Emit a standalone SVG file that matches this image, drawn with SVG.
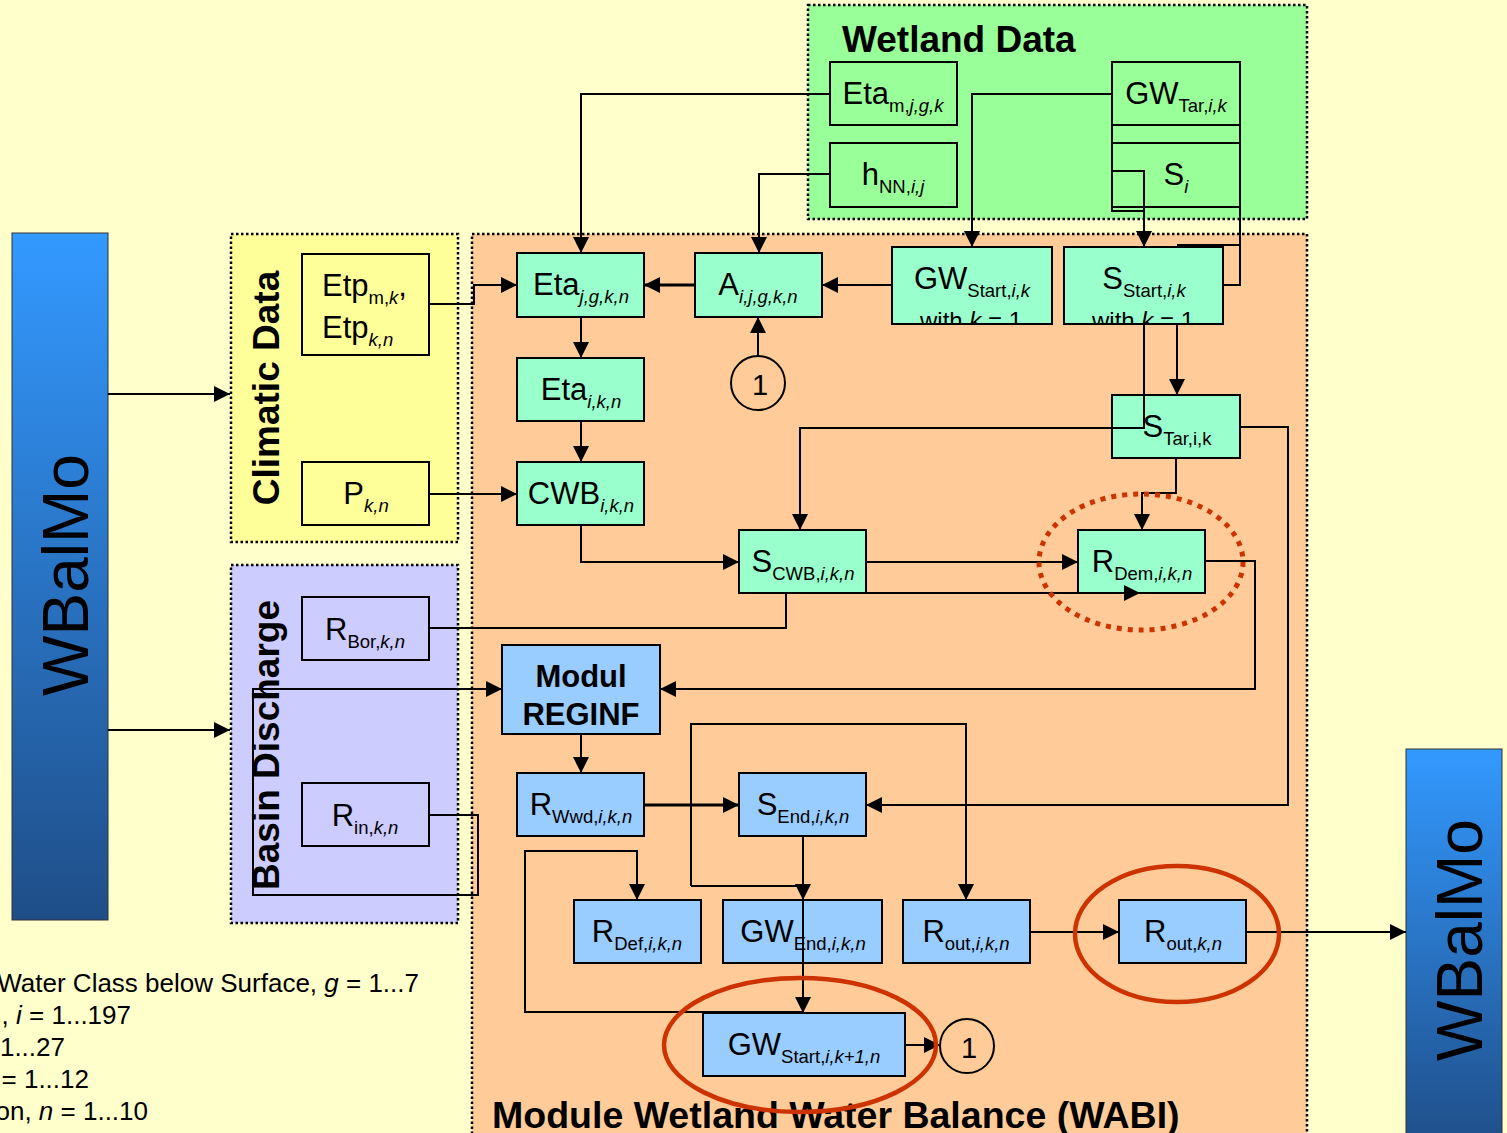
<svg xmlns="http://www.w3.org/2000/svg" width="1507" height="1133" viewBox="0 0 1507 1133">
<style>
.t{font-family:"Liberation Sans",Arial,sans-serif;fill:#000}
.m{font-size:31px}
.s{font-size:18.5px}
.i{font-style:italic}
.b{font-weight:bold}
.box{stroke:#000;stroke-width:2}
.g{fill:#99FFCC}.bl{fill:#99CCFF}.y{fill:#FFFF99}.v{fill:#CCCCFF}.w{fill:#99FF99}.o{fill:#FFCC99}
.ct{stroke:#000;stroke-width:2.5;stroke-dasharray:2.5 2.5}
.ln{fill:none;stroke:#000;stroke-width:2}
.th{stroke-width:3}
.a{marker-end:url(#ah)}
.wb{fill:url(#wbg);stroke:#333;stroke-width:1}
.red{fill:none;stroke:#CC3300;stroke-width:4.5}
</style>
<defs>
<marker id="ah" markerUnits="userSpaceOnUse" markerWidth="16" markerHeight="16" refX="16" refY="8" orient="auto"><path d="M0,0 L16,8 L0,16 z" fill="#000"/></marker>
<linearGradient id="wbg" x1="0" y1="0" x2="0" y2="1"><stop offset="0" stop-color="#3399FF"/><stop offset="1" stop-color="#1F4E88"/></linearGradient>
<clipPath id="c1"><rect x="892" y="247" width="160" height="77"/></clipPath>
<clipPath id="c2"><rect x="1064" y="247" width="159" height="77"/></clipPath>
</defs>
<rect x="0" y="0" width="1507" height="1133" fill="#FFFFCC"/>

<g id="containers">
<rect x="231" y="234" width="227" height="308" class="y ct"/>
<text class="t b" font-size="37" text-anchor="middle" transform="translate(279,388) rotate(-90)">Climatic Data</text>
<rect x="231" y="565" width="227" height="358" class="v ct"/>
<text class="t b" font-size="37" text-anchor="middle" transform="translate(279,745) rotate(-90)">Basin Discharge</text>
<rect x="808" y="5" width="499" height="214" class="w ct"/>
<text class="t b" font-size="37" x="842" y="52">Wetland Data</text>
<rect x="472" y="234" width="835" height="920" class="o ct"/>
<text class="t b" font-size="37.5" x="492" y="1128">Module Wetland Water Balance (WABI)</text>
</g>

<g id="wbalmo-left">
<rect x="12" y="233" width="96" height="687" class="wb"/>
<text class="t" font-size="64" text-anchor="middle" transform="translate(88,575) rotate(-90)">WBalMo</text>
</g>
<g id="wbalmo-right">
<rect x="1406" y="749" width="96" height="400" class="wb"/>
<text class="t" font-size="64" text-anchor="middle" transform="translate(1482,940) rotate(-90)">WBalMo</text>
</g>

<g id="legend" class="t" font-size="26" text-anchor="end">
<text x="419" y="992">Water Class below Surface, <tspan class="i">g</tspan> = 1...7</text>
<text x="131" y="1024">, <tspan class="i">i</tspan> = 1...197</text>
<text x="65" y="1056">1...27</text>
<text x="89" y="1088">= 1...12</text>
<text x="148" y="1120">on, <tspan class="i">n</tspan> = 1...10</text>
</g>

<g id="n-etp">
<rect x="302" y="254" width="127" height="101" class="y box"/>
<text x="322" y="296" class="t m">Etp<tspan class="s" dy="8">m,</tspan><tspan class="s i">k</tspan><tspan dy="-8">,</tspan></text>
<text x="322" y="338" class="t m">Etp<tspan class="s i" dy="8">k,n</tspan></text>
</g>
<g id="n-p">
<rect x="302" y="462" width="127" height="63" class="y box"/>
<text x="366" y="504" text-anchor="middle" class="t m">P<tspan class="s i" dy="8">k,n</tspan></text>
</g>
<g id="n-rbor">
<rect x="302" y="597" width="127" height="63" class="v box"/>
<text x="365" y="640" text-anchor="middle" class="t m">R<tspan class="s" dy="8">Bor,</tspan><tspan class="s i">k,n</tspan></text>
</g>
<g id="n-rin">
<rect x="302" y="783" width="127" height="63" class="v box"/>
<text x="365" y="826" text-anchor="middle" class="t m">R<tspan class="s" dy="8">in,</tspan><tspan class="s i">k,n</tspan></text>
</g>

<g id="n-etam">
<rect x="830" y="62" width="127" height="63" class="w box"/>
<text x="893" y="104" text-anchor="middle" class="t m">Eta<tspan class="s" dy="8">m,</tspan><tspan class="s i">j,g,k</tspan></text>
</g>
<g id="n-hnn">
<rect x="830" y="143" width="127" height="64" class="w box"/>
<text x="893" y="185" text-anchor="middle" class="t m">h<tspan class="s" dy="8">NN,</tspan><tspan class="s i">i,j</tspan></text>
</g>
<g id="n-gwtar">
<rect x="1112" y="62" width="128" height="63" class="w box"/>
<text x="1176" y="104" text-anchor="middle" class="t m">GW<tspan class="s" dy="8">Tar,</tspan><tspan class="s i">i,k</tspan></text>
</g>
<g id="n-si">
<rect x="1112" y="143" width="128" height="64" class="w box"/>
<text x="1176" y="185" text-anchor="middle" class="t m">S<tspan class="s i" dy="8">i</tspan></text>
</g>

<g id="n-etajgkn">
<rect x="517" y="253" width="127" height="64" class="g box"/>
<text x="581" y="295" text-anchor="middle" class="t m">Eta<tspan class="s i" dy="8">j,g,k,n</tspan></text>
</g>
<g id="n-a">
<rect x="695" y="253" width="127" height="64" class="g box"/>
<text x="758" y="295" text-anchor="middle" class="t m">A<tspan class="s i" dy="8">i,j,g,k,n</tspan></text>
</g>
<g id="n-gwstart">
<rect x="892" y="247" width="160" height="77" class="g box"/>
<text x="972" y="289" text-anchor="middle" class="t m">GW<tspan class="s" dy="8">Start,</tspan><tspan class="s i">i,k</tspan></text>
<text x="971" y="329" text-anchor="middle" class="t" font-size="24" clip-path="url(#c1)">with <tspan class="i">k</tspan> = 1</text>
</g>
<g id="n-sstart">
<rect x="1064" y="247" width="159" height="77" class="g box"/>
<text x="1144" y="289" text-anchor="middle" class="t m">S<tspan class="s" dy="8">Start,</tspan><tspan class="s i">i,k</tspan></text>
<text x="1143" y="329" text-anchor="middle" class="t" font-size="24" clip-path="url(#c2)">with <tspan class="i">k</tspan> = 1</text>
</g>
<g id="n-etaikn">
<rect x="517" y="358" width="127" height="63" class="g box"/>
<text x="581" y="400" text-anchor="middle" class="t m">Eta<tspan class="s i" dy="8">i,k,n</tspan></text>
</g>
<g id="n-c1a">
<circle cx="758" cy="383" r="27" fill="none" stroke="#000" stroke-width="2"/>
<text x="760" y="395" text-anchor="middle" class="t" font-size="29">1</text>
</g>
<g id="n-star">
<rect x="1112" y="395" width="128" height="63" class="g box"/>
<text x="1177" y="437" text-anchor="middle" class="t m">S<tspan class="s" dy="8">Tar,i,k</tspan></text>
</g>
<g id="n-cwb">
<rect x="517" y="462" width="127" height="63" class="g box"/>
<text x="581" y="504" text-anchor="middle" class="t m">CWB<tspan class="s i" dy="8">i,k,n</tspan></text>
</g>
<g id="n-scwb">
<rect x="739" y="530" width="127" height="63" class="g box"/>
<text x="803" y="572" text-anchor="middle" class="t m">S<tspan class="s" dy="8">CWB,</tspan><tspan class="s i">i,k,n</tspan></text>
</g>
<g id="n-rdem">
<rect x="1078" y="530" width="127" height="63" class="g box"/>
<text x="1142" y="572" text-anchor="middle" class="t m">R<tspan class="s" dy="8">Dem,</tspan><tspan class="s i">i,k,n</tspan></text>
</g>
<g id="n-reginf">
<rect x="502" y="645" width="158" height="89" class="bl box"/>
<text x="581" y="687" text-anchor="middle" class="t b" font-size="31">Modul</text>
<text x="581" y="725" text-anchor="middle" class="t b" font-size="31">REGINF</text>
</g>
<g id="n-rwwd">
<rect x="517" y="773" width="127" height="63" class="bl box"/>
<text x="581" y="815" text-anchor="middle" class="t m">R<tspan class="s" dy="8">Wwd,</tspan><tspan class="s i">i,k,n</tspan></text>
</g>
<g id="n-send">
<rect x="739" y="773" width="127" height="63" class="bl box"/>
<text x="803" y="815" text-anchor="middle" class="t m">S<tspan class="s" dy="8">End,</tspan><tspan class="s i">i,k,n</tspan></text>
</g>
<g id="n-rdef">
<rect x="574" y="900" width="127" height="63" class="bl box"/>
<text x="637" y="942" text-anchor="middle" class="t m">R<tspan class="s" dy="8">Def,</tspan><tspan class="s i">i,k,n</tspan></text>
</g>
<g id="n-gwend">
<rect x="723" y="900" width="159" height="63" class="bl box"/>
<text x="803" y="942" text-anchor="middle" class="t m">GW<tspan class="s" dy="8">End,</tspan><tspan class="s i">i,k,n</tspan></text>
</g>
<g id="n-routikn">
<rect x="903" y="900" width="127" height="63" class="bl box"/>
<text x="966" y="942" text-anchor="middle" class="t m">R<tspan class="s" dy="8">out,</tspan><tspan class="s i">i,k,n</tspan></text>
</g>
<g id="n-routkn">
<rect x="1119" y="900" width="127" height="63" class="bl box"/>
<text x="1183" y="942" text-anchor="middle" class="t m">R<tspan class="s" dy="8">out,</tspan><tspan class="s i">k,n</tspan></text>
</g>
<g id="n-gwstartk1">
<rect x="703" y="1013" width="202" height="63" class="bl box"/>
<text x="804" y="1055" text-anchor="middle" class="t m">GW<tspan class="s" dy="8">Start,</tspan><tspan class="s i">i,k+1,n</tspan></text>
</g>
<g id="n-c1b">
<circle cx="967" cy="1046" r="27" fill="none" stroke="#000" stroke-width="2"/>
<text x="969" y="1058" text-anchor="middle" class="t" font-size="29">1</text>
</g>

<g id="connectors" class="ln">
<path class="a" d="M108,394 H230"/>
<path class="a" d="M108,730 H230"/>
<path class="a" d="M429,304 H474 V285 H517"/>
<path class="a" d="M429,494 H517"/>
<path class="a" d="M830,94 H581 V253"/>
<path class="a" d="M830,174 H759 V253"/>
<path class="a" d="M1112,94 H972 V247"/>
<path class="a" d="M1112,171 H1144 V247"/>
<path d="M1112,207 V211 H1144"/>
<path d="M1112,125 V143 M1240,125 V143"/>
<path d="M1240,207 V285 H1223"/>
<path d="M1177,245 H1240"/>
<path class="a th" d="M695,285 H644"/>
<path class="a" d="M892,285 H822"/>
<path class="a" d="M758,356 V317"/>
<path class="a" d="M581,317 V358"/>
<path class="a" d="M581,421 V462"/>
<path class="a" d="M581,525 V562 H739"/>
<path class="a" d="M1177,324 V395"/>
<path class="a" d="M1144,324 V428 H800 V530"/>
<path class="a" d="M1176,458 V493 H1142 V530"/>
<path class="a" d="M866,562 H1078"/>
<path class="a" d="M866,593 H1140"/>
<path d="M429,628 H786 V593"/>
<path class="a" d="M1205,561 H1255 V689 H660"/>
<path class="a" d="M429,815 H478 V895 H253 V689 H502"/>
<path class="a" d="M581,734 V773"/>
<path class="a th" d="M644,805 H739"/>
<path class="a" d="M1240,427 H1288 V805 H866"/>
<path class="a" d="M691,886 V724 H966 V900"/>
<path d="M691,886 H803"/>
<path class="a" d="M803,836 V900"/>
<path class="a" d="M803,900 V1013"/>
<path class="a" d="M803,1012 H525 V851 H637 V900"/>
<path class="a" d="M1030,932 H1119"/>
<path class="a" d="M1246,932 H1406"/>
<path class="a" d="M905,1045 H940"/>
</g>

<g id="highlights">
<ellipse cx="1141" cy="562" rx="102" ry="68" fill="none" stroke="#CC3300" stroke-width="5" stroke-dasharray="5 6"/>
<ellipse cx="1177" cy="934" rx="102" ry="68" class="red"/>
<ellipse cx="800" cy="1045" rx="136" ry="67" class="red"/>
</g>
</svg>
